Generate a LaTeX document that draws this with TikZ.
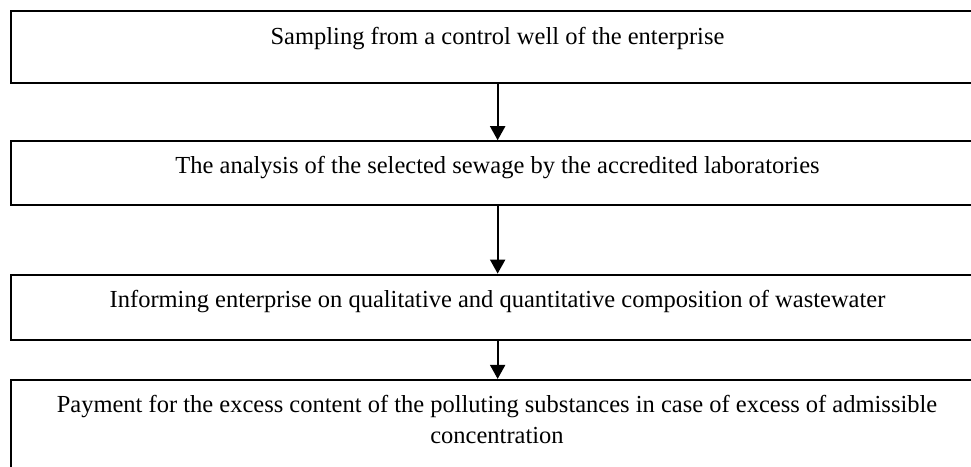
\documentclass[tikz,border=0pt]{standalone}
\usepackage{fontspec}
\setmainfont{Liberation Serif}
\usetikzlibrary{arrows.meta}
\begin{document}
\begin{tikzpicture}[x=1pt,y=-1pt,
  stepbox/.style={draw=black, line width=2.2pt, rectangle, inner sep=0pt},
  txt/.style={anchor=base, inner sep=0pt, font=\fontsize{24.5}{31}\selectfont, align=center},
  flow/.style={line width=2pt, -{Triangle[length=14pt,width=15pt]}}]
\useasboundingbox (0,0) rectangle (971,466);
\begin{scope}
\clip (0,0) rectangle (971,466);
\node[stepbox, minimum width=972.7pt, minimum height=72.6pt] (b1) at (497.65,47) {};
\node[stepbox, minimum width=972.7pt, minimum height=63.7pt] (b2) at (497.65,173.15) {};
\node[stepbox, minimum width=972.7pt, minimum height=65.6pt] (b3) at (497.65,307.5) {};
\node[stepbox, minimum width=972.7pt, minimum height=100pt] (b4) at (497.65,430) {};
\end{scope}
\node[txt] (t1) at (497.5,44) {Sampling from a control well of the enterprise};
\node[txt] (t2) at (497.5,173) {The analysis of the selected sewage by the accredited laboratories};
\node[txt] (t3) at (497.5,307) {Informing enterprise on qualitative and quantitative composition of wastewater};
\node[txt] (t4) at (497,443) {Payment for the excess content of the polluting substances in case of excess of admissible\\concentration};
\draw[flow] (b1.south) -- (b2.north);
\draw[flow] (b2.south) -- (b3.north);
\draw[flow] (b3.south) -- (b4.north);
\end{tikzpicture}
\end{document}
